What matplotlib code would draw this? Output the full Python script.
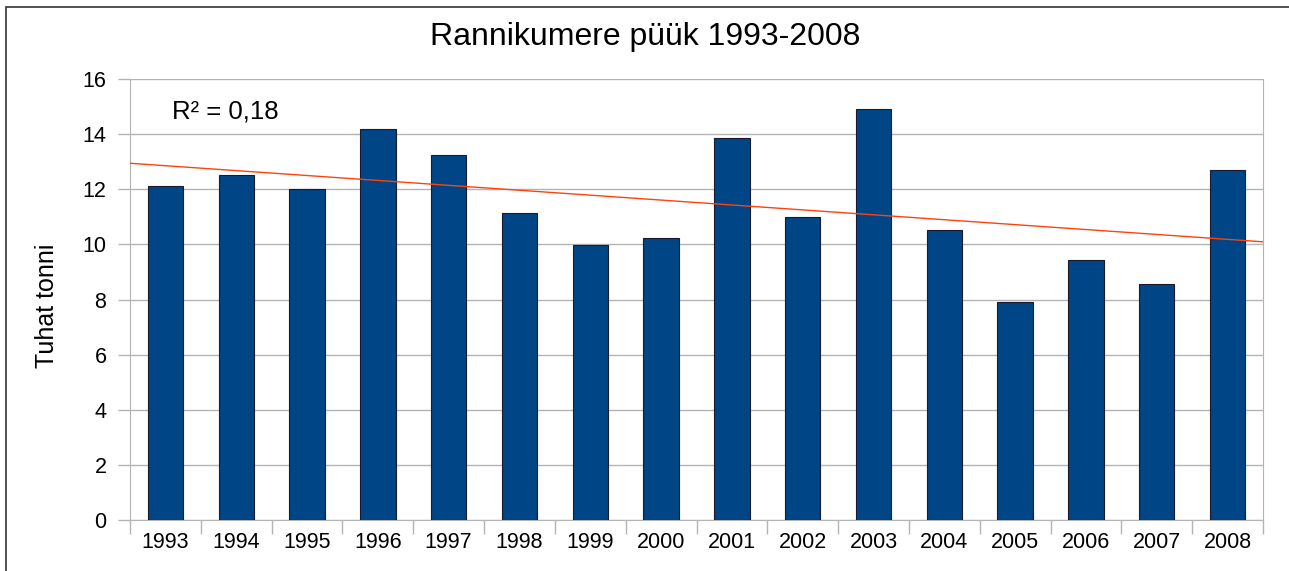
import numpy as np
import matplotlib
matplotlib.use("Agg")
import matplotlib.pyplot as plt
from matplotlib.patches import Rectangle

years = ["1993", "1994", "1995", "1996", "1997", "1998", "1999", "2000",
         "2001", "2002", "2003", "2004", "2005", "2006", "2007", "2008"]
values = [12.12, 12.52, 12.01, 14.19, 13.24, 11.14, 9.96, 10.23,
          13.86, 10.99, 14.91, 10.52, 7.91, 9.43, 8.56, 12.70]
yticks = [0, 2, 4, 6, 8, 10, 12, 14, 16]
title = "Rannikumere püük 1993-2008"
ylabel = "Tuhat tonni"
r2_label = "R² = 0,18"

plt.rcParams['font.family'] = ['Liberation Sans', 'DejaVu Sans']

fig = plt.figure(figsize=(12.89, 5.71), dpi=100)
ax = fig.add_axes([130/1289, 1-520/571, (1263-130)/1289, (520-79)/571])

x = np.arange(len(years))
ax.bar(x, values, width=0.5, color="#004586", edgecolor="#1a1a2e", linewidth=0.8, zorder=3)

# linear trend
coef = np.polyfit(x, values, 1)
xt = np.array([-0.5, len(years) - 0.5])
ax.plot(xt, np.polyval(coef, xt), color="#ff420e", linewidth=1.0, zorder=4)

ax.set_xlim(-0.5, len(years) - 0.5)
ax.set_ylim(0, 16)
ax.set_yticks(yticks)
ax.set_yticklabels([str(t) for t in yticks], fontsize=15.5)
ax.set_xticks(x)
ax.set_xticklabels(years, fontsize=15.5)
ax.tick_params(axis='x', length=0, pad=9)
ax.set_xticks(np.arange(-0.5, len(years), 1), minor=True)
ax.tick_params(axis='x', which='minor', length=10, color="#b3b3b3", width=1)
ax.tick_params(axis='y', length=9, color="#b3b3b3", width=1, pad=8)
ax.yaxis.grid(True, color="#b3b3b3", linewidth=1, zorder=0)
ax.set_axisbelow(True)
ax.spines['top'].set_visible(False)
ax.spines['left'].set_color("#b3b3b3")
ax.spines['bottom'].set_color("#b3b3b3")
ax.spines['right'].set_color("#b3b3b3")

ax.set_ylabel(ylabel, fontsize=18)
ax.yaxis.set_label_coords(59/1289, 1-306/571, transform=fig.transFigure)
ax.text(172/1289, 1-112/571, r2_label, transform=fig.transFigure, fontsize=18.5,
        ha='left', va='center')
fig.text(645/1289, 1-37/571, title, fontsize=23, ha='center', va='center')

fig.patches.append(Rectangle((6/1289, -0.01), 1.2, 1-7/571+0.01, transform=fig.transFigure,
                             fill=False, edgecolor="#333333", linewidth=1.2))

fig.savefig("out.png", dpi=100)
